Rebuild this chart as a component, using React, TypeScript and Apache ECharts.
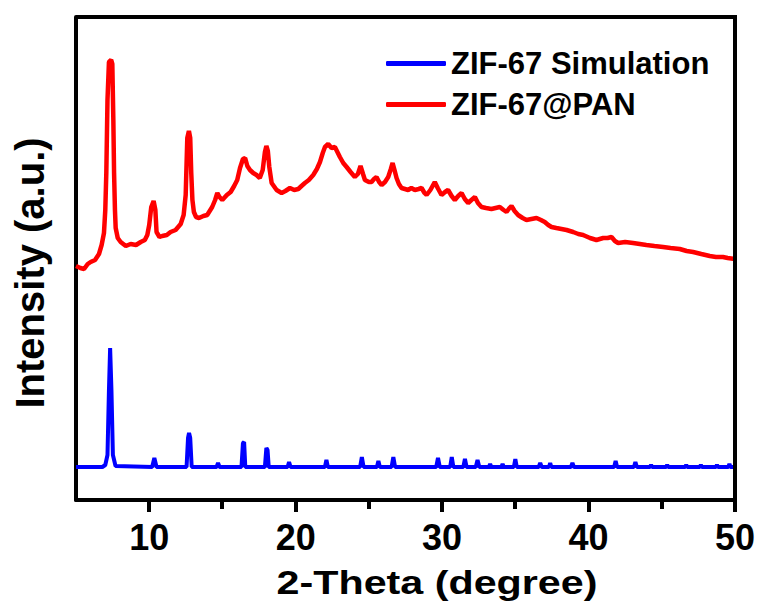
import React, { useEffect, useRef, useState } from "react";
import * as echarts from "echarts";

const xTickValues = [10, 20, 30, 40, 50];
const xMinorTickValues = [15, 25, 35, 45];
const seriesNames = ["ZIF-67 Simulation", "ZIF-67@PAN"];
const xTitle = "2-Theta (degree)";
const yTitle = "Intensity (a.u.)";
const X_MIN = 5;
const X_MAX = 50;
const Y_MIN = 0;
const Y_MAX = 483;

const redX = [
  5.0, 5.3, 5.55, 5.8, 6.0, 6.3, 6.57, 6.75, 6.91, 7.0, 7.07, 7.15, 7.25, 7.4, 7.48, 7.55, 7.6, 7.66, 7.71, 7.85,
  8.05, 8.4, 8.73, 9.1, 9.42, 9.7, 9.87, 10.0, 10.14, 10.3, 10.42, 10.5, 10.7, 10.89, 11.2, 11.46, 11.8, 12.15,
  12.35, 12.49, 12.6, 12.71, 12.8, 12.87, 12.95, 13.05, 13.2, 13.4, 13.7, 13.96, 14.3, 14.5, 14.65, 14.8, 14.99,
  15.3, 15.56, 15.8, 16.01, 16.2, 16.4, 16.55, 16.7, 16.88, 17.1, 17.33, 17.55, 17.75, 17.9, 18.0, 18.1, 18.2,
  18.36, 18.7, 19.04, 19.3, 19.61, 19.9, 20.18, 20.4, 20.63, 20.9, 21.2, 21.45, 21.66, 21.85, 22.0, 22.22, 22.45,
  22.68, 22.85, 23.02, 23.25, 23.48, 23.75, 24.04, 24.25, 24.43, 24.6, 24.73, 25.0, 25.18, 25.35, 25.52, 25.7,
  25.87, 26.1, 26.32, 26.5, 26.62, 26.75, 26.89, 27.05, 27.23, 27.46, 27.68, 27.9, 28.14, 28.4, 28.6, 28.8,
  28.94, 29.2, 29.5, 29.7, 29.96, 30.2, 30.41, 30.65, 30.87, 31.1, 31.33, 31.55, 31.78, 32.0, 32.24, 32.45,
  32.69, 33.0, 33.37, 33.65, 33.94, 34.2, 34.4, 34.6, 34.74, 34.95, 35.19, 35.5, 35.76, 36.1, 36.45, 36.75,
  37.01, 37.25, 37.47, 37.8, 38.15, 38.5, 38.95, 39.3, 39.63, 40.1, 40.54, 41.0, 41.3, 41.57, 41.8, 42.02, 42.5,
  43.04, 43.5, 43.95, 44.5, 45.09, 45.6, 46.23, 46.7, 47.14, 47.7, 48.28, 48.7, 49.18, 49.5, 50.0,
];
const redY = [
  234, 232, 231, 236, 238, 240, 246, 255, 267, 290, 327, 400, 438, 440, 436, 380, 327, 290, 272, 262,
  258, 254, 256, 255, 258, 260, 265, 275, 293, 299, 290, 268, 263, 264, 265, 268, 270, 276,
  285, 305, 362, 369, 362, 327, 300, 288, 283, 282, 284, 285, 293, 300, 307, 303, 300,
  305, 308, 314, 320, 332, 341, 342, 334, 330, 327, 325, 322, 330, 348, 354, 349, 333,
  317, 310, 307, 309, 312, 310, 311, 314, 317, 320, 325, 331, 338, 347, 353, 356, 352,
  353, 348, 343, 337, 333, 328, 323, 326, 334, 326, 320, 318, 318, 321, 323, 318,
  315, 318, 323, 331, 337, 330, 322, 316, 312, 311, 310, 312, 310, 311, 312, 307,
  305, 310, 318, 312, 305, 308, 310, 304, 300, 304, 307, 301, 297, 300, 303, 297,
  293, 292, 291, 292, 293, 290, 288, 292, 294, 289, 285, 282, 280, 281, 282, 280,
  278, 275, 273, 272, 271, 270, 268, 266, 265, 262, 260, 262, 262, 263, 259, 257, 258,
  257, 256, 255, 254, 253, 252, 251, 249, 248, 246, 244, 243, 243, 242, 241,
];

const blueX = [
  5.0, 6.8, 7.0, 7.15, 7.25, 7.33, 7.42, 7.52, 7.7,
  10.2, 10.35, 10.5, 12.55, 12.65, 12.72, 12.8, 12.9, 14.6, 14.7, 14.8,
  16.3, 16.4, 16.48, 16.56, 17.9, 18.0, 18.08, 18.16, 19.45, 19.55, 19.65,
  22.0, 22.1, 22.2, 24.4, 24.52, 24.64, 25.55, 25.65, 25.75, 26.55, 26.67, 26.79,
  29.6, 29.72, 29.84, 30.55, 30.66, 30.77, 31.45, 31.56, 31.67, 32.3, 32.42, 32.54,
  33.2, 33.28, 33.36, 34.05, 34.13, 34.21, 34.9, 35.0, 35.1, 36.6, 36.7, 36.8,
  37.3, 37.38, 37.46, 38.8, 38.9, 39.0, 41.75, 41.85, 41.95, 43.1, 43.2, 43.3,
  44.2, 44.27, 44.34, 45.3, 45.37, 45.44, 46.6, 46.67, 46.74, 47.6, 47.67, 47.74,
  48.7, 48.77, 48.84, 49.55, 49.62, 49.69, 50.0,
];
const blueY = [
  33, 33, 35, 45, 110, 152, 110, 45, 34,
  33, 42, 33, 33, 62, 67, 62, 33, 33, 37, 33,
  33, 57, 58, 33, 33, 52, 50, 33, 33, 38, 33,
  33, 40, 33, 33, 43, 33, 33, 39, 33, 33, 43, 33,
  33, 42, 33, 33, 43, 33, 33, 41, 33, 33, 40, 33,
  33, 36, 33, 33, 36, 33, 33, 41, 33, 33, 37, 33,
  33, 37, 33, 33, 37, 33, 33, 39, 33, 33, 38, 33,
  33, 35, 33, 33, 35, 33, 33, 35, 33, 33, 35, 33,
  33, 35, 33, 33, 36, 33, 33,
];

const FONT = "'Liberation Sans', Arial, Helvetica, sans-serif";
const W = 758;
const H = 601;
const GRID_LEFT = 76;
const GRID_RIGHT = 23;
const GRID_TOP = 17;
const GRID_BOTTOM = 101;

export default function App() {
  const ref = useRef<HTMLDivElement>(null);
  const [minorPx, setMinorPx] = useState<number[]>([]);

  useEffect(() => {
    document.body.style.margin = "0";
    if (!ref.current) return;
    const chart = echarts.init(ref.current, null, { renderer: "svg" });
    const blueData = blueX.map((x, i) => [x, blueY[i]]);
    const redData = redX.map((x, i) => [x, redY[i]]);
    const axisLine = { show: true, onZero: false, lineStyle: { color: "#000", width: 4 } };

    chart.setOption({
      animation: false,
      grid: {
        left: GRID_LEFT,
        right: GRID_RIGHT,
        top: GRID_TOP,
        bottom: GRID_BOTTOM,
      },
      legend: {
        orient: "vertical",
        left: 381,
        top: 43,
        itemGap: 10,
        itemWidth: 60,
        itemHeight: 5,
        icon: "roundRect",
        data: seriesNames,
        textStyle: {
          fontFamily: FONT,
          fontWeight: "bold",
          fontSize: 31,
          lineHeight: 30,
          color: "#000",
        },
      },
      xAxis: {
        type: "value",
        min: X_MIN,
        max: X_MAX,
        axisLine,
        axisTick: {
          show: true,
          customValues: xTickValues,
          inside: false,
          length: 12,
          lineStyle: { color: "#000", width: 4 },
        },
        axisLabel: {
          customValues: xTickValues,
          margin: 19,
          fontFamily: FONT,
          fontWeight: "bold",
          fontSize: 36,
          color: "#000",
        },
        splitLine: { show: false },
      },
      yAxis: {
        type: "value",
        min: Y_MIN,
        max: Y_MAX,
        axisLine,
        axisTick: { show: false },
        axisLabel: { show: false },
        splitLine: { show: false },
      },
      graphic: [
        {
          type: "text",
          x: 30,
          y: 273,
          rotation: Math.PI / 2,
          style: {
            text: yTitle,
            fontFamily: FONT,
            fontWeight: "bold",
            fontSize: 40,
            fill: "#000",
            textAlign: "center",
            textVerticalAlign: "middle",
          },
        },
        {
          type: "text",
          x: 437,
          y: 583,
          scaleX: 1.25,
          style: {
            text: xTitle,
            fontFamily: FONT,
            fontWeight: "bold",
            fontSize: 33,
            fill: "#000",
            textAlign: "center",
            textVerticalAlign: "middle",
          },
        },
      ],
      series: [
        {
          name: seriesNames[0],
          type: "line",
          data: blueData,
          symbol: "none",
          color: "#0000ff",
          lineStyle: { color: "#0000ff", width: 4 },
          z: 2,
        },
        {
          name: seriesNames[1],
          type: "line",
          data: redData,
          symbol: "none",
          color: "#ff0000",
          lineStyle: { color: "#ff0000", width: 4.5 },
          z: 3,
        },
      ],
    });

    try {
      const px = xMinorTickValues
        .map((v) => {
          const p = chart.convertToPixel({ xAxisIndex: 0 }, v) as unknown;
          return typeof p === "number" ? p : Array.isArray(p) ? (p[0] as number) : NaN;
        })
        .filter((p) => isFinite(p));
      setMinorPx(px);
    } catch (e) {
      setMinorPx([]);
    }

    return () => chart.dispose();
  }, []);

  const plotBottom = H - GRID_BOTTOM;
  const plotRight = W - GRID_RIGHT;

  return (
    <div style={{ position: "relative", width: W, height: H }}>
      <div ref={ref} style={{ width: W, height: H }} />
      <div
        style={{
          position: "absolute",
          left: GRID_LEFT,
          top: GRID_TOP - 2,
          width: plotRight + 2 - GRID_LEFT,
          height: plotBottom + 2 - (GRID_TOP - 2),
          boxSizing: "border-box",
          borderTop: "4px solid #000",
          borderRight: "4px solid #000",
          pointerEvents: "none",
        }}
      />
      {minorPx.map((p, i) => (
        <div
          key={i}
          style={{
            position: "absolute",
            left: p - 2,
            top: plotBottom,
            width: 4,
            height: 9,
            background: "#000",
            pointerEvents: "none",
          }}
        />
      ))}
    </div>
  );
}
